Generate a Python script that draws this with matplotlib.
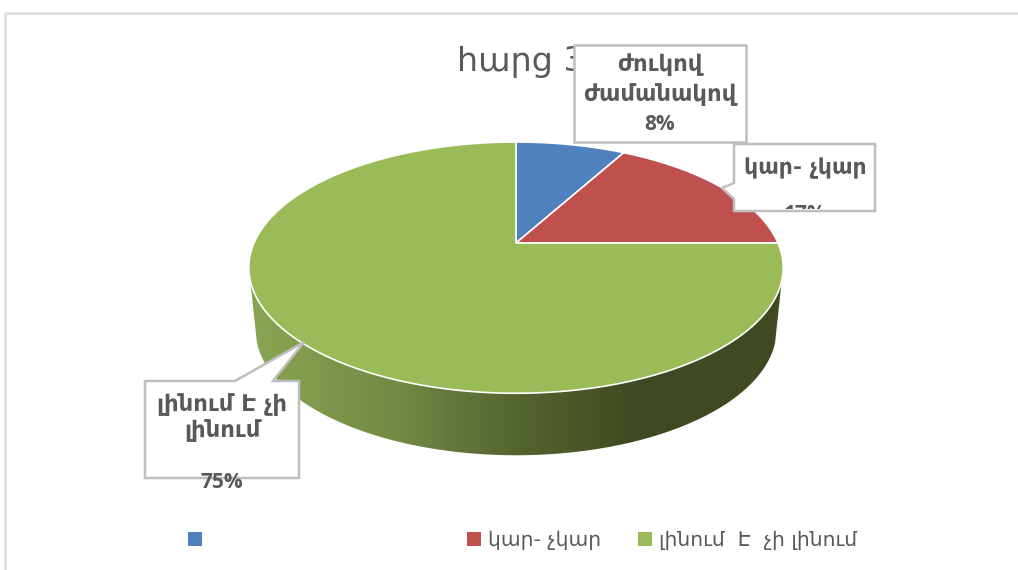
import numpy as np
import matplotlib
matplotlib.use("Agg")
import matplotlib.pyplot as plt
from matplotlib.patches import Polygon, Rectangle
from matplotlib.colors import LinearSegmentedColormap

title = "հարց 3"
categories = ["ժուկով ժամանակով", "կար- չկար", "լինում  Է  չի լինում"]
values = [8, 17, 75]
value_labels = ["8%", "17%", "75%"]
colors = ["#4f81bd", "#c0504d", "#9bbb59"]

plt.rcParams['font.family'] = ['DejaVu Sans']
W, H = 1018, 570
fig = plt.figure(figsize=(W/100, H/100), dpi=100)
ax = fig.add_axes([0, 0, 1, 1])
ax.set_xlim(0, W); ax.set_ylim(H, 0); ax.axis("off")
GREY = "#595959"; BORDER = "#bfbfbf"
NUM = ['Open Sans', 'DejaVu Sans']

ax.plot([5, 5, 1018], [570, 13, 13], color="#dcdcdc", lw=1.8, zorder=0)

# projective view of the pie disc
CX, APEX, A, B, K = 516, 243, 262, 120.8, 0.196
def project(theta, depth=0.0, shrink=1.0):
    X, Y = np.sin(theta), np.cos(theta)
    w = 1 + K*Y
    return CX + shrink*A*X/w, APEX - B*Y/w + depth

# side wall
t = np.linspace(np.pi/2 + 0.197, 3*np.pi/2 - 0.197, 300)
tb = np.linspace(3*np.pi/2 - 0.30, np.pi/2 + 0.30, 300)
tx, ty = project(t)
bx, by = project(tb, depth=62, shrink=0.975)
wall = Polygon(np.c_[np.r_[tx, bx], np.r_[ty, by]], closed=True, fc="none", ec="none", zorder=1)
ax.add_patch(wall)
cmap = LinearSegmentedColormap.from_list("wall", [
    (0.0, "#8aa552"), (0.27, "#748a45"), (0.5, "#55652f"),
    (0.72, "#404a22"), (1.0, "#404a22")])
im = ax.imshow(np.linspace(0, 1, 256)[None, :], cmap=cmap, extent=[250, 783, 470, 240],
               aspect="auto", zorder=1)
im.set_clip_path(wall)
ax.set_xlim(0, W); ax.set_ylim(H, 0)

# top surface
start = 0.0
total = sum(values)
for v, c in zip(values, colors):
    th = np.linspace(start, start + v/total*2*np.pi, 240)
    x, y = project(th)
    ax.add_patch(Polygon(np.c_[np.r_[CX, x], np.r_[APEX, y]], closed=True, fc=c,
                         ec="white", lw=1.2, zorder=2, joinstyle="round"))
    start += v/total*2*np.pi

# title
ax.text(457, 61, title, fontsize=24, color=GREY, va="center", ha="left", zorder=3)

def callout(pts):
    ax.add_patch(Polygon(pts, closed=True, fc="white", ec=BORDER, lw=1.8, zorder=4, joinstyle="miter"))

LBL = 16.4
callout([(574, 45), (746, 45), (746, 142), (574, 142)])
for txt, y in zip(["ժուկով", "ժամանակով"], [65, 95]):
    ax.text(660, y, txt, fontsize=LBL, fontweight="bold", color=GREY, ha="center", va="center", zorder=5)
ax.text(660, 125, value_labels[0], fontsize=15, fontweight="bold", family=NUM, color=GREY, ha="center", va="center", zorder=5)

callout([(734, 144), (875, 144), (875, 211), (734, 211), (734, 199), (722, 188), (734, 183)])
ax.text(805, 168, categories[1], fontsize=15.8, fontweight="bold", color=GREY, ha="center", va="center", zorder=5)
clipped = ax.text(805, 214, value_labels[1], fontsize=15, fontweight="bold", family=NUM, color=GREY, ha="center", va="center", zorder=5)
clipped.set_clip_on(True)
clipped.set_clip_box(Rectangle((780, 200), 60, 9, transform=ax.transData).get_window_extent())

callout([(145, 381), (235, 381), (304, 342), (273, 381), (299, 381), (299, 478), (145, 478)])
for txt, y in zip(["լինում Է չի", "լինում"], [404, 431]):
    ax.text(222, y, txt, fontsize=LBL, fontweight="bold", color=GREY, ha="center", va="center", zorder=5)
ax.text(222, 482, value_labels[2], fontsize=15, fontweight="bold", family=NUM, color=GREY, ha="center", va="center", zorder=5)

# legend
for x0, c in zip([188, 467, 638], colors):
    ax.add_patch(Rectangle((x0, 532), 14, 14, fc=c, ec="none", zorder=3))
for x0, txt in zip([488, 659], categories[1:]):
    ax.text(x0, 540, txt, fontsize=14.6, color=GREY, ha="left", va="center", zorder=3)

fig.savefig("out.png", dpi=100)
